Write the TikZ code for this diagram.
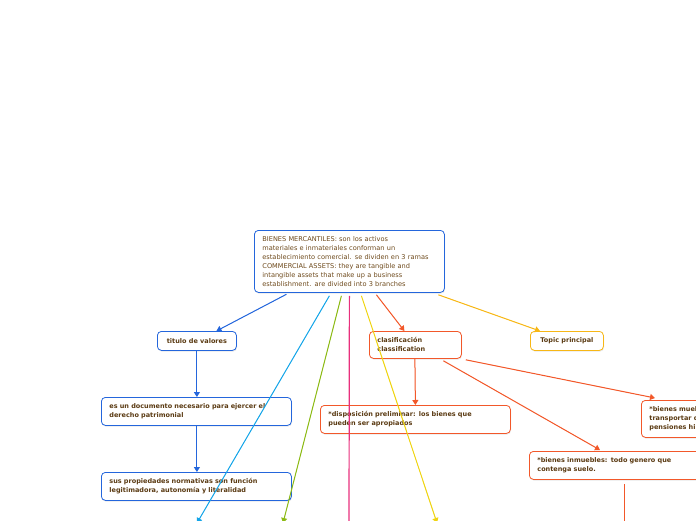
\documentclass[tikz,border=0pt]{standalone}
\usepackage{fontspec}
\setmainfont{DejaVu Sans}
\usepackage{tikz}
\usetikzlibrary{arrows.meta,positioning,calc,shadows}
\definecolor{Ink}{HTML}{5A3A12}
\definecolor{InkLight}{HTML}{6E4A1C}
\definecolor{Blue}{HTML}{2466DC}
\definecolor{Cyan}{HTML}{14A5E8}
\definecolor{Green}{HTML}{8CBA14}
\definecolor{Pink}{HTML}{E8307C}
\definecolor{Yellow}{HTML}{EFD410}
\definecolor{Gold}{HTML}{F7B716}
\definecolor{Orange}{HTML}{F2582A}
\tikzset{
  topic/.style={draw,line width=0.8pt,rounded corners=4pt,fill=white,text=Ink,align=left,
    inner xsep=8pt,inner ysep=0pt,anchor=north west,font=\fontsize{6.5}{9}\selectfont\bfseries,
    drop shadow={opacity=0.18,shadow xshift=0.6pt,shadow yshift=-1.2pt}},
  topicblue/.style={topic,draw=Blue},
  topicorange/.style={topic,draw=Orange},
  topicgold/.style={topic,draw=Gold},
  link/.style={-{Triangle[length=5pt,width=6pt]},line width=1pt}
}
\begin{document}
\begin{tikzpicture}[x=1pt,y=-1pt]
  \useasboundingbox (0,0) rectangle (696,520);
  % central topic
  \node[topicblue,font=\fontsize{6.6}{9}\selectfont,text=InkLight,text width=174pt,minimum height=62pt] (root) at (254,230)
    {BIENES MERCANTILES: son los activos\\materiales e inmateriales conforman un\\establecimiento comercial. se dividen en 3 ramas\\COMMERCIAL ASSETS: they are tangible and\\intangible assets that make up a business\\establishment. are divided into 3 branches};
  % left branch
  \node[topicblue,align=center,minimum width=79pt,minimum height=19pt,inner xsep=2pt] (titulo) at (157,331) {titulo de valores};
  \node[topicblue,text width=174pt,minimum height=28pt] (documento) at (101,397) {es un documento necesario para ejercer el\\derecho patrimonial};
  \node[topicblue,text width=174pt,minimum height=28pt] (propiedades) at (101,472) {sus propiedades normativas son función\\legitimadora, autonomía y literalidad};
  % right branch
  \node[topicorange,text width=76pt,minimum height=27pt] (clasif) at (369,331) {clasificación\\classification};
  \node[topicgold,align=center,minimum width=73pt,minimum height=19pt,inner xsep=2pt] (principal) at (530,331) {Topic principal};
  \node[topicorange,text width=174pt,minimum height=28pt] (disposicion) at (320,405) {*disposición preliminar: los bienes que\\pueden ser apropiados};
  \node[topicorange,text width=160pt,minimum height=37pt] (muebles) at (641,400) {*bienes muebles: los que se pueden\\transportar de un lugar a otro\\pensiones hipotecarias};
  \node[topicorange,text width=174pt,minimum height=28pt] (inmuebles) at (529,451) {*bienes inmuebles: todo genero que\\contenga suelo.};
  % branches leaving the page
  \coordinate (cyanEnd) at (197,523);
  \coordinate (greenEnd) at (283,523);
  \coordinate (pinkEnd) at (349,523);
  \coordinate (yellowEnd) at (437,523);
  \coordinate (inmEnd) at (624,523);
  \draw[link,draw=Blue,fill=Blue] ([xshift=-63pt,yshift=-1.5pt]root.south) -- ([xshift=19.5pt]titulo.north);
  \draw[link,draw=Blue,fill=Blue] (titulo.south) -- (documento.north -| titulo.south);
  \draw[link,draw=Blue,fill=Blue] (documento.south -| titulo.south) -- (propiedades.north -| titulo.south);
  \draw[link,draw=Cyan,fill=Cyan] ([xshift=-20pt,yshift=-3pt]root.south) -- (cyanEnd);
  \draw[link,draw=Green,fill=Green] ([xshift=-8pt,yshift=-3pt]root.south) -- (greenEnd);
  \draw[line width=1.2pt,draw=Pink] ([yshift=-3pt]root.south) -- (pinkEnd);
  \draw[link,draw=Yellow,fill=Yellow] ([xshift=12pt,yshift=-3pt]root.south) -- (yellowEnd);
  \draw[link,draw=Orange,fill=Orange] ([xshift=27pt,yshift=-2pt]root.south) -- ([xshift=-11pt]clasif.north);
  \draw[link,draw=Gold,fill=Gold] ([xshift=89pt,yshift=-2pt]root.south) -- ([xshift=10pt]principal.north west);
  \draw[link,draw=Orange,fill=Orange] ([xshift=-0.5pt]clasif.south) -- (disposicion.north -| clasif.south);
  \draw[link,draw=Orange,fill=Orange] ([xshift=4pt,yshift=-1pt]clasif.south east) -- ([xshift=14pt,yshift=2pt]muebles.north west);
  \draw[link,draw=Orange,fill=Orange] ([xshift=28pt,yshift=-2pt]clasif.south) -- ([xshift=71pt,yshift=1pt]inmuebles.north west);
  \draw[line width=1pt,draw=Orange] ([yshift=-4pt]inmuebles.south west -| inmEnd) -- (inmEnd);
\end{tikzpicture}
\end{document}
